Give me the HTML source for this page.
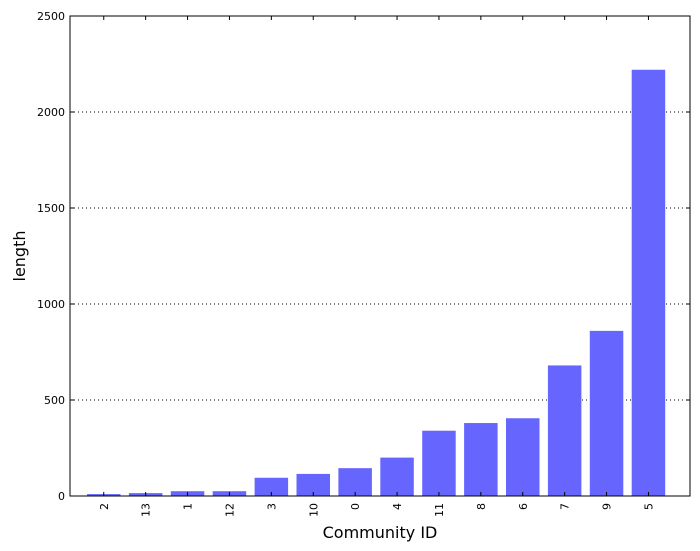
<!DOCTYPE html>
<html><head><meta charset="utf-8"><style>
body{margin:0;background:#fff;}
svg{display:block;font-family:"DejaVu Sans","Liberation Sans",sans-serif;}
</style></head><body>
<svg id="chart" width="700" height="551">
<rect x="0" y="0" width="700" height="551" fill="#fff"/>
<g id="grid"></g><g id="bars"></g><g id="axes"></g>
</svg>
<script>
const categories=["2","13","1","12","3","10","0","4","11","8","6","7","9","5"];
const lengths=[10,15,25,25,95,115,145,200,340,380,405,680,860,2220];
const yTicks=[0,500,1000,1500,2000,2500];
const ns="http://www.w3.org/2000/svg";
const L=70,R=690,T=16,B=496,yMax=2500;
const step=41.9,barW=33.5,firstLeft=87;
function y(v){return B-(v/yMax)*(B-T);}
function xLeft(i){return firstLeft+i*step;}
function mk(tag,attrs,parent,text){const e=document.createElementNS(ns,tag);for(const k in attrs)e.setAttribute(k,attrs[k]);if(text!==undefined)e.textContent=text;parent.appendChild(e);return e;}
const grid=document.getElementById('grid'),bars=document.getElementById('bars'),axes=document.getElementById('axes');
yTicks.forEach(t=>{
  if(t>0&&t<yMax){const g=mk('line',{x1:L,x2:R,y1:y(t),y2:y(t),stroke:'#000','stroke-width':1,'stroke-dasharray':'1,3'},grid);
  
  }
  const tl=mk('line',{x1:L,x2:L+4,y1:y(t),y2:y(t),stroke:'#000'},axes);
  const tr=mk('line',{x1:R-4,x2:R,y1:y(t),y2:y(t),stroke:'#000'},axes);
  const lb=mk('text',{x:L-5,y:y(t)+4,'text-anchor':'end','font-size':11},axes,String(t));
  
  
});
lengths.forEach((v,i)=>{
  const r=mk('rect',{x:xLeft(i),y:y(v),width:barW,height:B-y(v),fill:'#6666ff'},bars);
  
  
  const cx=xLeft(i)+barW/2;
  mk('line',{x1:cx,x2:cx,y1:B,y2:B-4,stroke:'#000'},axes);
  mk('line',{x1:cx,x2:cx,y1:T,y2:T+4,stroke:'#000'},axes);
  const lb=mk('text',{x:0,y:0,'text-anchor':'end','font-size':11,transform:`translate(${cx+4},${B+7}) rotate(-90)`},axes,categories[i]);
  
  
});
const fr=mk('rect',{x:L,y:T,width:R-L,height:B-T,fill:'none',stroke:'#000','stroke-width':1},axes);


const xt=mk('text',{x:380,y:538,'text-anchor':'middle','font-size':16},axes,'Community ID');


const yt=mk('text',{x:0,y:0,'text-anchor':'middle','font-size':16,transform:'translate(25,256) rotate(-90)'},axes,'length');


</script>
</body></html>
